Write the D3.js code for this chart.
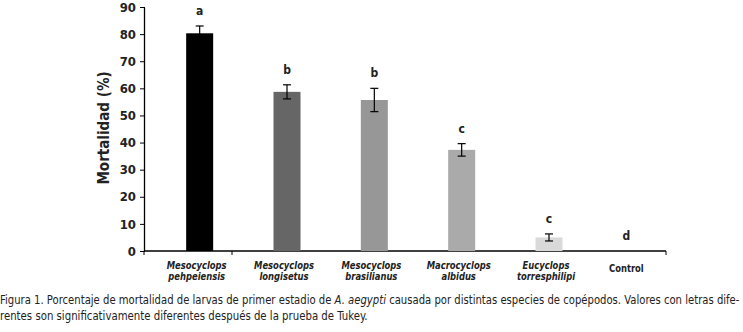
<!DOCTYPE html>
<html>
<head>
<meta charset="utf-8">
<script src="https://cdn.jsdelivr.net/npm/d3@7"></script>
<style>
  body { margin: 0; background: #fff; }
  svg { display: block; }
</style>
</head>
<body>
<div id="chart"></div>
<script>
// Mortality of first-instar A. aegypti larvae by copepod species
const species = [
    ['Mesocyclops', 'pehpeiensis'],
    ['Mesocyclops', 'longisetus'],
    ['Mesocyclops', 'brasilianus'],
    ['Macrocyclops', 'albidus'],
    ['Eucyclops', 'torresphilipi'],
    ['Control']
];
const mortality = [80.3, 58.7, 55.7, 37.3, 5.0, 0];
const errors = [2.7, 2.6, 4.3, 2.3, 1.3, 0];
const letters = ['a', 'b', 'b', 'c', 'c', 'd'];
const barColors = ['#000000', '#666666', '#979797', '#aaaaaa', '#d9d9d9', '#ffffff'];
const yTicks = [0, 10, 20, 30, 40, 50, 60, 70, 80, 90];
const caption = [
    ['Figura 1. Porcentaje de mortalidad de larvas de primer estadio de ', 'A. aegypti', ' causada por distintas especies de copépodos. Valores con letras dife-'],
    ['rentes son significativamente diferentes después de la prueba de Tukey.']
];

const W = 743, H = 332;
const font = '"DejaVu Sans Condensed", "Liberation Sans Narrow", sans-serif';

const svg = d3.select('#chart')
    .append('svg')
    .attr('width', W)
    .attr('height', H);

const axisLeftX = 144, axisRightX = 666;

const y = d3.scaleLinear()
    .domain([0, 90])
    .range([251, 7]);

const x = d3.scaleBand()
    .domain(d3.range(species.length))
    .range([156, 680]);

const barW = 27;

// squeeze a text horizontally so it matches the narrow face of the original
function squeeze(sel, factor, ox, oy) {
    sel.attr('transform', `translate(${ox},${oy}) scale(${factor},1)`);
}

// y axis
const yAxis = svg.append('g')
    .attr('transform', `translate(${axisLeftX},0)`)
    .call(d3.axisLeft(y).tickValues(yTicks).tickSize(4).tickSizeOuter(0));
yAxis.select('.domain').attr('stroke', '#000').attr('stroke-width', 1.3);
yAxis.selectAll('.tick line').attr('stroke', '#000').attr('x2', -4).attr('x1', 1);
yAxis.selectAll('.tick text')
    .attr('x', -8)
    .style('font-family', font)
    .style('font-size', '13px')
    .style('font-weight', 'bold')
    .attr('fill', '#222');

// x axis line
svg.append('line')
    .attr('x1', axisLeftX).attr('x2', axisRightX)
    .attr('y1', y(0)).attr('y2', y(0))
    .attr('stroke', '#000').attr('stroke-width', 1.3);

const xTickPos = [axisLeftX, 232, axisRightX];
svg.selectAll('.xtick')
    .data(xTickPos)
    .enter().append('line')
    .attr('x1', d => d).attr('x2', d => d)
    .attr('y1', y(0)).attr('y2', y(0) + 4)
    .attr('stroke', '#000');

// bars
svg.selectAll('.bar')
    .data(mortality)
    .enter().append('rect')
    .attr('x', (d, i) => x(i) + x.bandwidth() / 2 - barW / 2)
    .attr('y', d => y(d))
    .attr('width', barW)
    .attr('height', d => y(0) - y(d))
    .attr('fill', (d, i) => barColors[i]);

// error bars
mortality.forEach((m, i) => {
    if (errors[i] === 0) return;
    const cx = x(i) + x.bandwidth() / 2;
    const g = svg.append('g').attr('stroke', '#000').attr('stroke-width', 1.2);
    g.append('line')
        .attr('x1', cx).attr('x2', cx)
        .attr('y1', y(m - errors[i])).attr('y2', y(m + errors[i]));
    g.append('line')
        .attr('x1', cx - 4).attr('x2', cx + 4)
        .attr('y1', y(m + errors[i])).attr('y2', y(m + errors[i]));
    g.append('line')
        .attr('x1', cx - 4).attr('x2', cx + 4)
        .attr('y1', y(m - errors[i])).attr('y2', y(m - errors[i]));
});

// significance letters
svg.selectAll('.letter')
    .data(letters)
    .enter().append('text')
    .attr('x', (d, i) => x(i) + x.bandwidth() / 2 - (i === 5 ? 10 : 0))
    .attr('y', (d, i) => y(mortality[i] + errors[i]) - 11)
    .attr('text-anchor', 'middle')
    .style('font-family', font)
    .style('font-size', '12px')
    .style('font-weight', 'bold')
    .attr('fill', '#222')
    .text(d => d);

// category labels, one text per line
species.forEach((lines, i) => {
    const cx = x(i) + x.bandwidth() / 2 - (i === 5 ? 10 : 3);
    lines.forEach((s, k) => {
        const t = svg.append('text')
            .attr('text-anchor', 'middle')
            .style('font-family', font)
            .style('font-size', '11px')
            .style('font-weight', 'bold')
            .style('font-style', lines.length === 1 ? 'normal' : 'italic')
            .attr('fill', '#222')
            .text(s);
        squeeze(t, 0.85, cx, (lines.length === 1 ? 272 : 269) + k * 11);
    });
});

// y axis title
svg.append('text')
    .attr('transform', 'translate(109,128) rotate(-90)')
    .attr('text-anchor', 'middle')
    .style('font-family', font)
    .style('font-size', '15px')
    .style('font-weight', 'bold')
    .attr('fill', '#222')
    .text('Mortalidad (%)');

// caption
caption.forEach((parts, i) => {
    const t = svg.append('text')
        .style('font-family', font)
        .style('font-size', '12.5px')
        .attr('fill', '#222');
    parts.forEach((p, k) => {
        t.append('tspan')
            .style('font-style', k === 1 ? 'italic' : 'normal')
            .text(p);
    });
    const natural = t.node().getComputedTextLength();
    const target = i === 0 ? 740 : 368;
    squeeze(t, target / natural, 0, 304 + i * 16);
});
</script>
</body>
</html>
